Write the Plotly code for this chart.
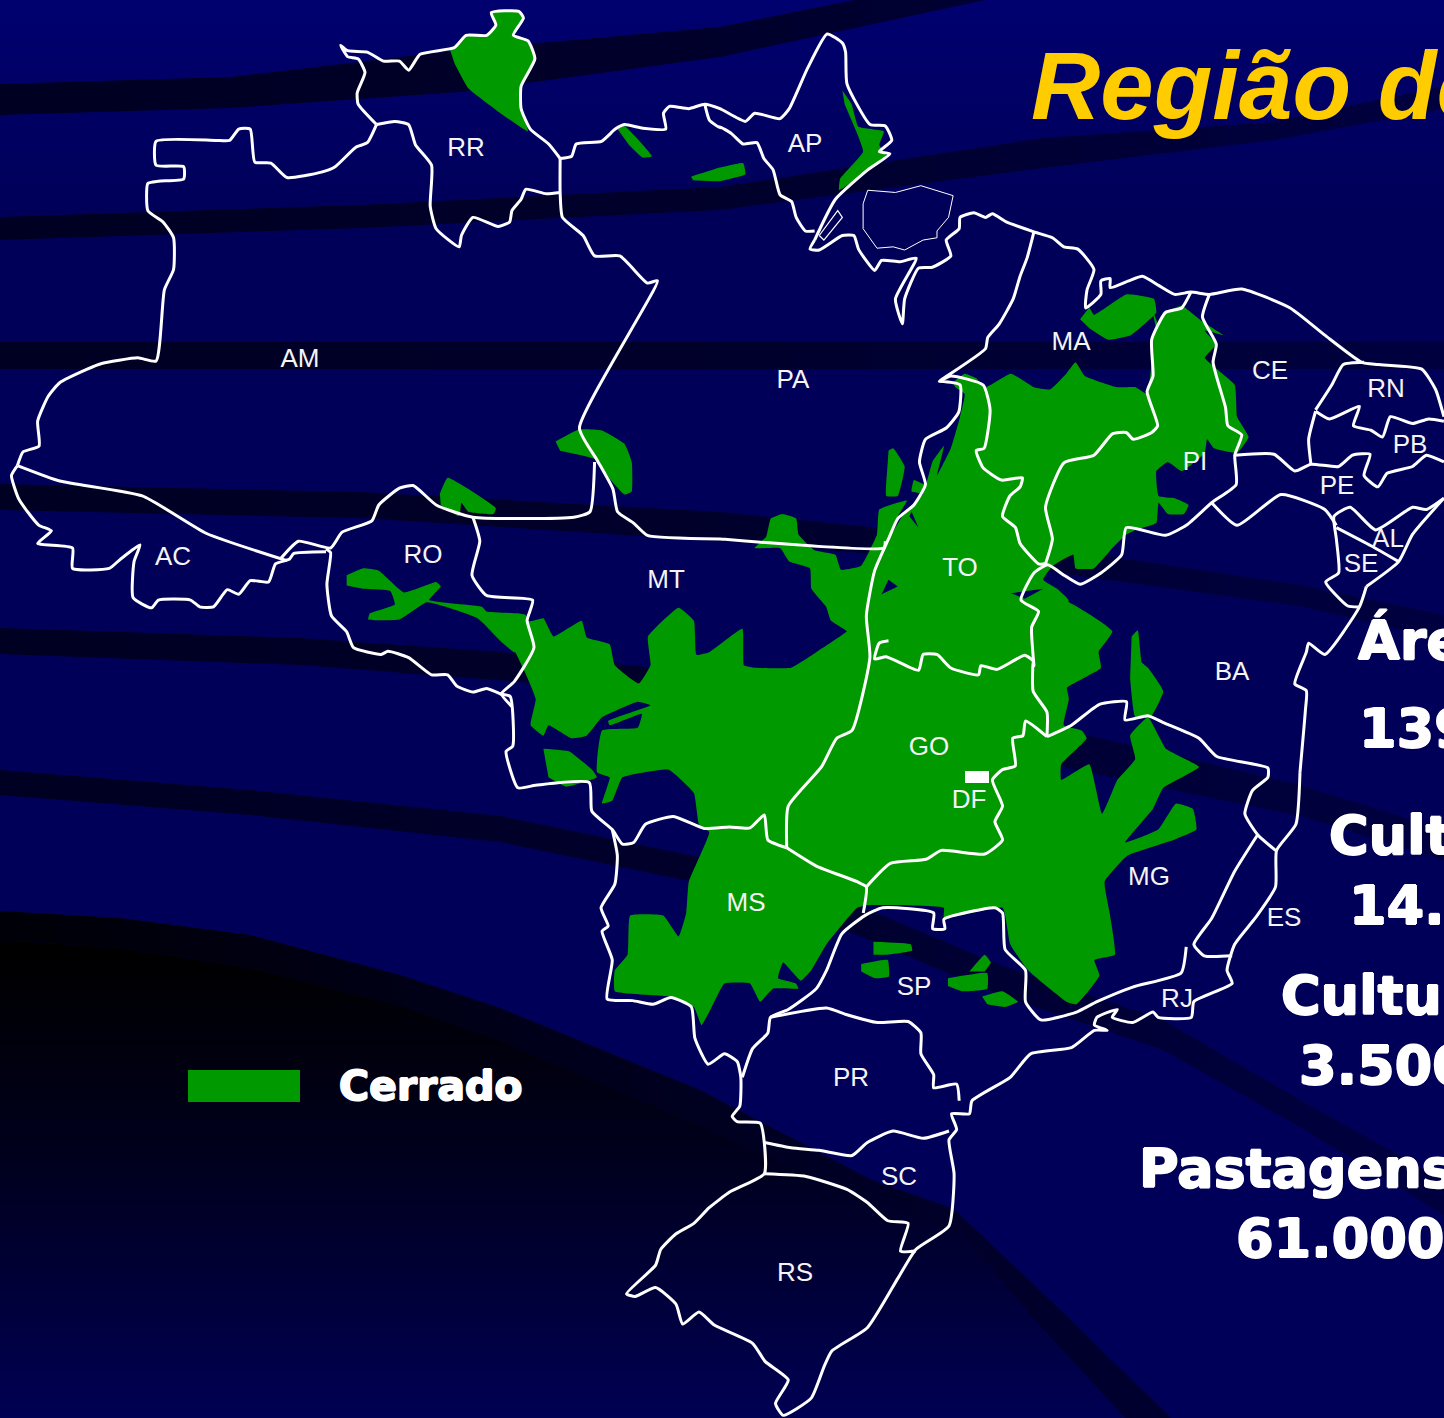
import plotly.graph_objects as go

W, H = 1444, 1418

def z1(p): return [(x / 2.178, y / 2.208) for x, y in p]
def z2(p): return [(720 + x / 2.166, y / 2.208) for x, y in p]
def z3(p): return [(500 + x / 1.96, 600 + y / 1.917) for x, y in p]

# ---------- backdrop bands ----------
BAND_1 = [(0,84),(230,77),(460,50),(720,27),(854,0),(985,0),(720,57),(460,92),(230,108),(0,115)]
BAND_2 = [(0,217),(360,205),(720,187),(1043,138),(1274,122),(1444,86),(1444,109),(1274,140),(1043,168),(720,210),(360,228),(0,240)]
BAND_3 = [(0,342),(1444,342),(1444,369),(0,369)]
BAND_4 = [(0,484),(360,492),(720,512),(1000,540),(1300,585),(1444,615),(1444,640),(1300,606),(1000,565),(720,541),(360,518),(0,510)]
BAND_5 = [(0,628),(300,638),(500,652),(653,668),(900,700),(1100,738),(1300,785),(1444,830),(1444,860),(1300,816),(1100,775),(900,730),(653,692),(500,680),(300,665),(0,654)]
BAND_6 = [(0,770),(250,790),(500,816),(694,856),(857,905),(1000,965),(1163,1020),(1300,1100),(1444,1180),(1444,1215),(1300,1127),(1163,1050),(1000,995),(857,935),(694,882),(500,842),(250,815),(0,795)]
BAND_7 = [(0,911),(120,918),(250,935),(400,975),(500,1008),(700,1090),(872,1180),(954,1209),(1050,1300),(1171,1418),(1125,1418),(1030,1315),(964,1237),(870,1200),(700,1125),(500,1040),(400,1005),(250,968),(120,948),(0,940)]
CORNER = [(0,940),(120,948),(250,968),(400,1005),(500,1040),(700,1125),(870,1200),(964,1237),(1030,1315),(1125,1418),(0,1418)]

# ---------- Cerrado areas ----------
G_RR = z1([(980,110),(1015,78),(1060,78),(1080,55),(1070,28),(1130,25),(1140,40),(1118,78),(1150,90),(1165,130),(1135,190),(1135,240),(1150,290),(1090,250),(1020,195),(990,140)])
G_PA1 = z1([(1345,285),(1360,278),(1420,345),(1400,348),(1370,320)])
G_PA2 = z1([(1505,390),(1568,370)]) + z2([(50,360),(55,385),(0,400)]) + z1([(1510,398)])
G_AP = z2([(265,200),(285,230),(300,280),(355,290),(345,320),(360,345),(310,385),(258,420),(260,395),(310,335),(295,290),(270,230)])
G_PA3 = z1([(1210,975),(1262,948),(1310,950),(1360,980),(1376,1020),(1376,1085),(1360,1092),(1330,1060),(1300,1015),(1220,995)])
G_RO1 = z1([(958,1090),(975,1055),(1080,1122),(1075,1135),(1020,1130),(1005,1110),(1000,1140),(960,1115)])
G_RO2 = z1([(755,1270),(790,1255),(825,1260),(880,1308),(950,1285),(960,1295),(935,1325),(1050,1340),(1060,1350),(1145,1358),(1165,1430),(1120,1440),(1095,1420),(1040,1365),(930,1330),(870,1368),(802,1368),(805,1355),(860,1335),(850,1305),(790,1300),(755,1293)])
G_MAIN_S = z3([(65,40),(85,35),(105,70),(160,40),(170,72),(215,85),(225,125),(272,160),(295,125),(290,70),(350,15),(380,40),(385,105),(410,100),(475,55),(478,125),(500,130),(570,130),(620,100),(680,60),(725,0),(1105,0),(1200,60),(1165,110),(1165,130),(1110,160),(1115,190),(1105,240),(1140,250),(1150,265),(1100,315),(1100,345),(1155,315),(1180,410),(1210,345),(1245,305),(1235,260),(1270,225),(1305,285),(1370,320),(1300,360),(1280,400),(1225,465),(1290,440),(1325,390),(1358,400),(1365,440),(1320,460),(1230,490),(1185,540),(1195,600),(1205,680),(1165,690),(1175,720),(1130,775),(1110,770),(1035,710),(1000,660),(985,590),(870,610),(870,590),(720,585),(700,590),(640,660),(610,710),(590,730),(555,695),(545,725),(580,735),(585,745),(535,745),(510,770),(490,735),(440,735),(410,790),(395,815),(380,780),(330,760),(225,750),(225,710),(250,680),(255,605),(320,605),(350,645),(365,600),(370,540),(410,445),(390,430),(380,370),(330,325),(240,340),(220,385),(200,390),(215,340),(190,330),(200,250),(270,245),(278,218),(215,240),(212,232),(295,202),(270,195),(200,225),(170,260),(140,265),(95,240),(85,260),(60,240),(70,190),(45,130),(20,80),(0,50)])
G_LOBE = z3([(85,285),(135,290),(180,325),(190,340),(130,358),(95,340)])
G_BA = z3([(1238,70),(1250,58),(1258,120),(1270,130),(1300,175),(1275,225),(1245,225),(1235,150)])
G_SP1 = z3([(732,655),(805,660),(808,672),(760,680),(732,680)])
G_SP2 = z3([(708,698),(760,690),(762,722),(735,725),(708,712)])
G_SP3 = z3([(878,725),(955,715),(955,745),(905,750),(878,740)])
G_SP4 = z3([(920,712),(950,680),(962,695),(950,712)])
G_SP5 = z3([(945,760),(985,750),(1015,770),(990,780),(955,775)])
G_MAIN_N = z2([(300,1568),(320,1430),(270,1390),(240,1370),(230,1340),(198,1300),(195,1255),(150,1240),(130,1210),(75,1210),(100,1185),(110,1145),(135,1135),(165,1145),(170,1180),(205,1215),(250,1225),(262,1258),(305,1250),(340,1180),(345,1125),(405,1105),(385,1140),(365,1190),(395,1140),(440,1090),(415,1085),(420,1060),(445,1070),(460,1020),(485,985),(470,1050),(500,990),(520,920),(530,870),(510,855),(505,845),(530,825),(555,835),(575,855),(630,825),(680,855),(715,860),(750,825),(770,800),(790,830),(860,855),(900,855),(925,870),(935,800),(935,750),(965,690),(1000,675),(1045,710),(1090,740),(1050,730),(1075,760),(1050,790),(1115,850),(1120,920),(1145,965),(1120,1000),(1070,990),(1055,970),(1050,1000),(1000,1040),(970,1020),(945,1040),(950,1095),(985,1100),(1015,1115),(1005,1135),(970,1135),(950,1110),(945,1155),(900,1170),(880,1180),(850,1210),(810,1255),(770,1255),(765,1225),(720,1250),(700,1280),(730,1300),(755,1325),(745,1370),(850,1395),(830,1410),(820,1440),(825,1475),(750,1520),(745,1568)])
G_STRIP = z2([(365,995),(375,990),(400,1030),(385,1095),(360,1095),(362,1040)])
G_MA = z2([(780,705),(800,680),(810,695),(880,650),(940,660),(945,690),(890,740),(840,750),(800,725)])
G_THIN = z2([(935,680),(950,722),(944,722)])
HOLE_1 = z2([(630,1310),(700,1300),(660,1322)])
HOLE_2 = z2([(350,1312),(385,1295),(365,1280)])
HOLE_3 = z2([(410,1140),(430,1165),(415,1130)])
LEGEND_SWATCH = [(188,1070),(300,1070),(300,1102),(188,1102)]
DF_BOX = [(965,771),(989,771),(989,783),(965,783)]

# ---------- state borders ----------
B_AC = z1([(38,1028),(25,1050),(40,1100),(60,1130),(85,1160),(112,1172),(82,1200),(158,1210),(158,1255),(238,1255),(262,1235),(305,1203),(292,1240),(290,1320),(330,1342),(345,1325),(415,1325),(435,1340),(465,1340),(495,1302),(520,1312),(545,1282),(585,1285),(600,1245),(630,1235),(640,1222),(710,1218)])
B_AC_AM = z1([(38,1028),(130,1062),(310,1095),(450,1178),(625,1238)])
B_AM_W = z1([(38,1028),(50,998),(85,985),(82,930),(105,875),(130,845),(190,815),(220,803),(300,790),(340,797),(358,640),(378,595),(378,525),(355,490),(322,465),(322,405),(345,400),(400,395),(400,368),(340,365),(340,312),(470,310),(500,310),(520,285),(545,285),(555,358),(590,360),(625,392),(700,380),(730,368),(775,325),(800,315),(820,275)])
B_RR_N = z1([(820,275),(780,230),(778,205),(795,160),(780,130),(757,125),(742,100),(757,112),(800,115),(835,135),(870,135),(890,155),(915,120),(990,105),(1015,78),(1060,78),(1080,55),(1070,28),(1130,25),(1140,40),(1118,78),(1150,90),(1165,130),(1135,190),(1135,240),(1155,285),(1195,318),(1220,350)])
B_RR_S = z1([(820,275),(860,268),(890,275),(905,320),(940,365),(937,455),(950,505),(1000,545),(1005,520),(1030,480),(1085,500),(1110,490),(1115,465),(1135,440),(1145,418),(1190,428),(1220,425)])
B_AM_PA = z1([(1220,350),(1220,425),(1225,480),(1270,520),(1295,565),(1350,565),(1410,625),(1432,620),(1262,945),(1300,1015),(1335,1080),(1345,1130),(1380,1155),(1410,1182),(1568,1190)]) + z2([(0,1190),(355,1210),(358,1195)])
B_AP_N = z1([(1220,350),(1245,345),(1255,318),(1310,312),(1340,285),(1360,275),(1400,283),(1450,285),(1445,250),(1458,235),(1500,240),(1535,230)]) + z2([(0,240),(55,268),(75,250),(130,262),(150,240),(190,150),(232,75),(265,95),(272,115),(275,185),(325,275),(358,278),(372,310),(345,335),(368,340),(320,375),(250,440),(205,530)])
B_AP_S = z1([(1535,230),(1545,265),(1568,282)]) + z2([(0,280),(25,295),(50,318),(80,315),(95,350),(115,375),(130,430),(155,445),(165,480),(185,510),(205,510)])
B_COAST_N = z2([(205,530),(195,550),(215,552),(265,520),(290,520),(300,550),(335,597),(350,575),(390,578),(425,570),(380,660),(395,715),(400,660),(430,592),(460,590),(500,565),(490,530),(518,505),(520,480),(550,470),(575,480),(590,472),(620,490),(680,512),(720,525),(745,545),(775,550),(810,595),(795,640),(792,680),(825,650),(825,620),(845,615),(845,635),(885,620),(915,610),(950,630),(985,650),(1020,645),(1060,650),(1130,638),(1235,680),(1310,740),(1390,800),(1425,805),(1520,815),(1550,860),(1568,920)])
B_ISLET = z2([(215,520),(255,465),(265,480),(225,530),(215,520)])
B_PA_MA = z2([(680,512),(665,570),(650,610),(635,660),(605,715),(580,745),(575,770),(475,842),(500,830),(570,850),(585,905),(572,990),(555,995),(570,1033),(610,1060),(655,1055),(650,1075),(628,1095),(612,1140),(640,1165),(650,1200),(690,1245),(705,1245)])
B_MA_PI = z2([(1020,645),(1000,680),(965,690),(935,750),(938,830),(925,865),(948,940),(935,955),(895,970),(880,955),(850,958),(810,1005),(745,1022),(705,1120),(720,1190),(705,1245)])
B_PA_TO = z2([(475,842),(520,850),(517,910),(490,945),(445,970),(432,1020),(445,1070),(420,1115),(385,1145),(365,1190),(335,1260),(317,1360)]) + z3([(725,110),(690,250),(660,265),(630,320),(565,395),(562,475)])
B_MT_N = z1([(1295,1020),(1285,1130),(1250,1142),(1030,1142),(950,1115),(900,1072),(870,1078),(825,1115),(810,1150),(745,1175),(720,1210),(650,1195),(610,1235)])
B_RO = z1([(710,1212),(720,1220),(712,1290),(722,1360),(755,1395),(770,1430),(830,1445),(845,1438),(890,1452),(940,1490),(975,1490),(995,1515),(1030,1528),(1060,1520),(1090,1532)])
B_MT_RO = z1([(1030,1142),(1045,1195),(1028,1270),(1060,1315),(1160,1325),(1148,1370),(1163,1430),(1120,1505),(1092,1532),(1115,1560)])
B_MT_S = z3([(0,180),(20,185),(25,280),(12,290),(35,360),(70,355),(175,350),(180,405),(220,440),(240,468),(262,465),(285,430),(340,415),(400,438),(450,435),(490,437),(518,412),(525,460),(562,475)])
B_SOUTH = z3([(220,440),(230,490),(225,545),(198,590),(212,625),(200,635),(220,690),(210,765),(260,768),(300,775),(335,762),(375,780),(382,840),(408,890),(440,870),(465,885),(472,915),(470,970),(455,990),(465,1000),(510,1003),(518,1040),(518,1100),(450,1135),(410,1165),(380,1195),(345,1215),(315,1245),(305,1275),(248,1330),(265,1335),(305,1318),(345,1350),(358,1388),(390,1365),(420,1390),(495,1425),(520,1460),(565,1495),(540,1540),(555,1563),(610,1530),(635,1470),(650,1440),(720,1395),(780,1300),(815,1245),(880,1200),(890,1100),(880,1035),(895,1015),(885,985),(920,985),(925,960),(1000,915),(1040,870),(1120,858),(1165,825),(1190,825),(1165,815),(1170,800),(1210,785),(1200,800),(1240,810),(1280,790),(1290,800),(1355,800),(1360,770),(1435,735),(1425,710),(1440,660),(1480,610),(1520,550),(1522,480),(1560,430),(1568,330)])
B_BA_COAST = z2([(1400,1295),(1385,1340),(1310,1445),(1275,1420),(1270,1440),(1245,1510),(1270,1525),(1268,1568)]) + z3([(1568,330)])
B_SE = z2([(1385,1340),(1360,1338),(1312,1285),(1340,1265),(1335,1190),(1330,1140),(1365,1120),(1420,1170),(1500,1120),(1530,1125),(1568,1100)])
B_COAST_E = z2([(1400,1295),(1470,1240),(1500,1180),(1568,1100)])
B_AL_SE = z2([(1335,1165),(1410,1205),(1470,1240)])
B_PE_N = z2([(1115,1005),(1200,1003),(1245,1040),(1280,1025),(1340,1030),(1370,1005),(1408,1003),(1395,1050),(1425,1075),(1445,1045),(1500,1030),(1530,1005),(1568,1020)])
B_BA_PE = z2([(1065,1110),(1120,1160),(1215,1092),(1310,1125),(1335,1160)])
B_PI_E = z2([(1060,650),(1045,700),(1075,760),(1068,800),(1095,900),(1100,940),(1130,960),(1115,1005),(1118,1070),(1065,1110),(1010,1160),(965,1182),(880,1165),(870,1225),(825,1265),(780,1290),(745,1270),(710,1247),(680,1265),(652,1325),(690,1350),(675,1385),(680,1470)]) + z3([(1045,115),(1045,175),(1072,215),(1072,262)])
B_TO_GO = z2([(365,1415),(345,1420),(335,1455),(360,1450),(430,1480),(440,1445),(470,1445),(500,1475),(560,1490),(565,1470),(600,1478),(660,1447),(680,1460)])
B_MG_N = z3([(1072,262),(1120,240),(1175,200),(1228,195),(1225,230),(1270,222),(1300,235),(1370,265),(1405,300),(1505,322),(1505,340),(1475,365),(1460,410),(1485,450),(1520,480)])
B_MG_E = z3([(1485,450),(1440,520),(1395,610),(1360,660),(1380,682),(1435,682)])
B_MG_RJ = z3([(1345,665),(1335,715),(1240,742),(1170,770),(1130,790),(1060,805),(1030,770),(1030,710),(990,670),(985,600),(970,590),(870,612),(872,630),(848,630),(850,600),(750,590),(715,605),(670,640),(640,710),(620,745),(565,785),(530,800),(525,830),(495,860),(475,915)])
B_PR = z3([(530,800),(640,782),(680,795),(740,810),(800,808),(825,830),(825,870),(850,910),(850,935),(895,928),(900,960)])
B_SC = z3([(518,1040),(570,1050),(625,1055),(690,1065),(720,1040),(770,1018),(830,1032),(880,1018)])
B_RS = z3([(518,1100),(600,1105),(680,1130),(720,1155),(760,1190),(800,1195),(785,1248),(815,1248)])
B_MS_GO = z3([(562,475),(620,510),(700,540),(718,550),(712,600)])
B_GO_MG = z3([(718,550),(765,505),(835,497),(865,480),(950,487),(985,460),(970,425),(985,395),(965,345),(985,325),(1010,318),(1005,265),(1025,260),(1030,232),(1072,262)])
B_RN = z2([(1290,905),(1325,850),(1350,805),(1395,800)])
B_RN_PB = z2([(1290,908),(1320,925),(1385,897),(1372,940),(1410,950),(1435,965),(1452,920),(1500,935),(1535,925),(1568,930)])
B_PB = z2([(1290,908),(1275,970),(1280,1025)])
B_MARAJO = z2([(320,420),(380,425),(435,410),(505,432),(495,480),(470,510),(470,525),(440,530),(400,552),(375,545),(340,548),(310,505),(310,450),(320,420)])

# ---------- labels ----------
STATE_NAMES = ["RR","AP","AM","PA","MA","CE","RN","PB","PI","PE","AL","SE","AC","RO","MT","TO","BA","GO","DF","MG","ES","MS","SP","RJ","PR","SC","RS"]
STATE_X = [466,805,300,793,1071,1270,1386,1410,1195,1337,1388,1361,173,423,666,960,1232,929,969,1149,1284,746,914,1177,851,899,795]
STATE_Y = [149,145,360,381,343,372,390,446,463,487,540,565,558,556,581,569,673,748,801,878,919,904,988,1000,1079,1178,1274]
SIDE_TEXT = ["Área", "139.000", "Culturas", "14.000", "Culturas", "3.500", "Pastagens", "61.000"]
SIDE_X = [1356, 1357, 1327, 1347, 1279, 1297, 1137, 1234]
SIDE_Y = [640, 728, 835, 905, 995, 1065, 1168, 1238]

NAVY, GREEN = "#00005a", "#009900"
fig = go.Figure()

def poly(pts, color, smooth=False, **kw):
    line = dict(width=0, color=color)
    if smooth:
        line.update(shape="spline", smoothing=0.35)
    fig.add_trace(go.Scatter(x=[p[0] for p in pts], y=[p[1] for p in pts], mode="lines",
                             fill="toself", fillcolor=color, line=line,
                             hoverinfo="skip", showlegend=False, **kw))

poly([(0,0),(W,0),(W,H),(0,H)], NAVY,
     fillgradient=dict(type="vertical", start=0, stop=220,
                       colorscale=[[0,"#000070"],[1,"#000058"]]))
for b in (BAND_1, BAND_2, BAND_3, BAND_4, BAND_5, BAND_6):
    poly(b, "#000030",
         fillgradient=dict(type="horizontal", start=0, stop=W,
                           colorscale=[[0,"#000022"],[0.5,"#00002c"],[1,"#000040"]]))
poly(BAND_7, "#00001c",
     fillgradient=dict(type="horizontal", start=0, stop=1100,
                       colorscale=[[0,"#000008"],[1,"#00002e"]]))
poly(CORNER, "#000010",
     fillgradient=dict(type="vertical", start=950, stop=1418,
                       colorscale=[[0,"#000000"],[0.45,"#00001e"],[1,"#000054"]]))

for g in (G_RR, G_PA1, G_PA2, G_AP, G_PA3, G_RO1, G_RO2, G_MAIN_S, G_LOBE, G_BA, G_SP1, G_SP2, G_SP3,
          G_SP4, G_SP5, G_MAIN_N, G_STRIP, G_MA, G_THIN):
    poly(g, GREEN, smooth=True)
poly(LEGEND_SWATCH, GREEN)
for h in (HOLE_1, HOLE_2, HOLE_3):
    poly(h, NAVY)

BORDERS = [B_AC,B_AC_AM,B_AM_W,B_RR_N,B_RR_S,B_AM_PA,B_AP_N,B_AP_S,B_COAST_N,B_PA_MA,B_MA_PI,B_PA_TO,B_MT_N,
           B_RO,B_MT_RO,B_MT_S,B_SOUTH,B_BA_COAST,B_SE,B_COAST_E,B_AL_SE,B_PE_N,B_BA_PE,B_PI_E,B_TO_GO,B_MG_N,
           B_MG_E,B_MG_RJ,B_PR,B_SC,B_RS,B_MS_GO,B_GO_MG,B_RN,B_RN_PB,B_PB]
for b in BORDERS:
    fig.add_trace(go.Scatter(x=[p[0] for p in b], y=[p[1] for p in b], mode="lines",
                             line=dict(color="white", width=3, shape="spline", smoothing=0.5),
                             hoverinfo="skip", showlegend=False))
for b, w in ((B_MARAJO, 1), (B_ISLET, 1.2)):
    fig.add_trace(go.Scatter(x=[p[0] for p in b], y=[p[1] for p in b], mode="lines",
                             line=dict(color="white", width=w), hoverinfo="skip", showlegend=False))
poly(DF_BOX, "white")

fig.add_trace(go.Scatter(x=STATE_X, y=STATE_Y, mode="text", text=STATE_NAMES,
                         textposition="middle center", cliponaxis=False, hoverinfo="skip", showlegend=False,
                         textfont=dict(family="Liberation Sans", size=26, color="#f4f4f4")))

HEAVY = "0.9px 0 0 white,-0.9px 0 0 white,0 0.7px 0 white,0 -0.7px 0 white"

def label(text, x, y, size, color, family, bold=False, italic=False, shadow="none"):
    fig.add_annotation(x=x, y=y, text=text, xref="x", yref="y", xanchor="left", yanchor="middle",
                       showarrow=False, align="left",
                       font=dict(family=family, size=size, color=color, shadow=shadow,
                                 weight="bold" if bold else "normal",
                                 style="italic" if italic else "normal"))

label("Região do Cerrado", 1029, 85, 96, "#ffcc00", "Liberation Sans", True, True)
label("Cerrado", 337, 1086, 41, "white", "DejaVu Sans", True, shadow=HEAVY)
for t, x, y in zip(SIDE_TEXT, SIDE_X, SIDE_Y):
    label(t, x, y, 54, "white", "DejaVu Sans", True, shadow=HEAVY)

fig.update_layout(width=W, height=H, margin=dict(l=0, r=0, t=0, b=0),
                  paper_bgcolor=NAVY, plot_bgcolor=NAVY, showlegend=False,
                  xaxis=dict(range=[0, W], visible=False, fixedrange=True),
                  yaxis=dict(range=[H, 0], visible=False, fixedrange=True))
fig.write_html("out.html", config=dict(displayModeBar=False),
               post_script="document.body.style.margin='0';document.body.style.overflow='hidden';")
